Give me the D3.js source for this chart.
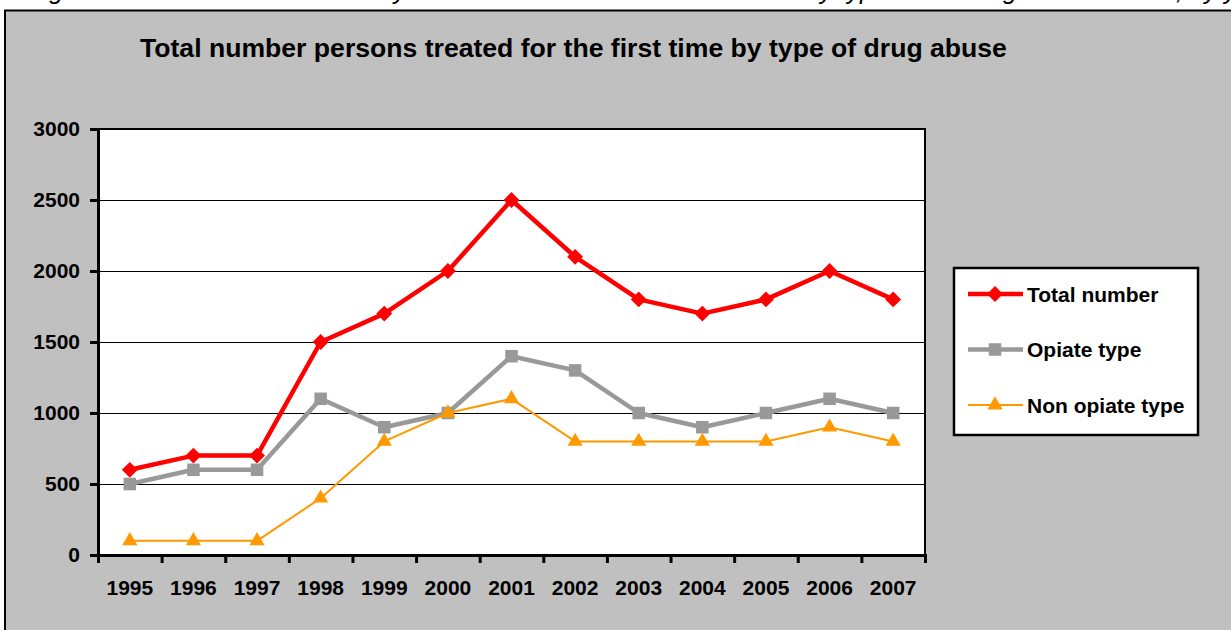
<!DOCTYPE html>
<meta charset="utf-8">
<style>
  body { margin: 0; background: #fff; overflow: hidden; }
  .axis text { font-family: Arial, "Liberation Sans", sans-serif; font-weight: bold; fill: #000; }
  .legend text { font-family: Arial, "Liberation Sans", sans-serif; font-weight: bold; font-size: 21px; }
  .grid { shape-rendering: crispEdges; }
</style>
<script src="https://d3js.org/d3.v7.min.js"></script>

<!-- Create a div where the graph will take place -->
<div id="my_dataviz"></div>

<script>

    // data
    var years = ["1995", "1996", "1997", "1998", "1999", "2000", "2001",
                 "2002", "2003", "2004", "2005", "2006", "2007"];
    var totalNumber   = [600, 700, 700, 1500, 1700, 2000, 2500, 2100, 1800, 1700, 1800, 2000, 1800];
    var opiateType    = [500, 600, 600, 1100, 900, 1000, 1400, 1300, 1000, 900, 1000, 1100, 1000];
    var nonOpiateType = [100, 100, 100, 400, 800, 1000, 1100, 800, 800, 800, 800, 900, 800];
    var yTicks = [0, 500, 1000, 1500, 2000, 2500, 3000];
    var seriesNames = ["Total number", "Opiate type", "Non opiate type"];

    var series = [
      {name: seriesNames[0], values: totalNumber,   color: "#ff0000", width: 4.5, symbol: d3.symbolDiamond2, size: 160},
      {name: seriesNames[1], values: opiateType,    color: "#999999", width: 4.5, symbol: d3.symbolSquare2,  size: 200},
      {name: seriesNames[2], values: nonOpiateType, color: "#ff9900", width: 2,   symbol: d3.symbolTriangle, size: 100}
    ];

    // set the dimensions and margins of the graph
    var margin = {top: 129, right: 306, bottom: 75, left: 98},
      width = 1231 - margin.left - margin.right,
      height = 630 - margin.top - margin.bottom;

    var root = d3.select("#my_dataviz")
      .append("svg")
        .attr("width", 1231)
        .attr("height", 630);

    // caption above the chart (cut off by the page edge)
    root.append("text")
        .attr("x", 28)
        .attr("y", -1)
        .style("font-family", "Arial, 'Liberation Sans', sans-serif")
        .style("font-style", "italic")
        .style("font-size", "25.5px")
        .text("Figure 4: Number of clients newly treated for the first time in their life by type of the drug abuse in total, by year");

    // grey chart area
    root.append("rect")
        .attr("x", 5)
        .attr("y", 10.5)
        .attr("width", 1240)
        .attr("height", 640)
        .style("fill", "#c0c0c0")
        .style("stroke", "#000")
        .style("stroke-width", 2);

    // chart title
    root.append("text")
        .attr("x", 140)
        .attr("y", 57)
        .style("font-family", "Arial, 'Liberation Sans', sans-serif")
        .style("font-weight", "bold")
        .style("font-size", "26.6px")
        .text("Total number persons treated for the first time by type of drug abuse");

    var svg = root.append("g")
        .attr("transform", "translate(" + margin.left + "," + margin.top + ")");

    // plot area
    svg.append("rect")
        .attr("width", width)
        .attr("height", height)
        .style("fill", "#fff")
        .style("stroke", "#000")
        .style("stroke-width", 2);

    // scales
    var x = d3.scaleBand()
      .domain(years)
      .range([0, width]);

    var xEdge = d3.scaleLinear()
      .domain([0, years.length])
      .range([0, width]);

    var y = d3.scaleLinear()
      .domain([0, 3000])
      .range([height, 0]);

    // gridlines
    svg.selectAll(".grid")
      .data(yTicks)
      .enter()
      .append("line")
        .attr("class", "grid")
        .attr("x1", 0)
        .attr("x2", width)
        .attr("y1", function(d) { return y(d) })
        .attr("y2", function(d) { return y(d) })
        .style("stroke", "#000")
        .style("stroke-width", 1);

    // Y axis
    var yAxis = svg.append("g")
      .attr("class", "axis")
      .style("font-size", "21px")
      .call(d3.axisLeft(y).tickValues(yTicks).tickFormat(d3.format("d")).tickSize(8).tickPadding(10));
    yAxis.selectAll("line, path").style("stroke", "#000").style("stroke-width", 3);

    // X axis: ticks between the years
    var xTickAxis = svg.append("g")
      .attr("class", "axis")
      .attr("transform", "translate(0," + height + ")")
      .call(d3.axisBottom(xEdge).tickValues(d3.range(0, years.length + 1)).tickFormat("").tickSize(8).tickSizeOuter(8));
    xTickAxis.selectAll("line, path").style("stroke", "#000").style("stroke-width", 3);

    // X axis labels
    var xLabels = svg.append("g")
      .attr("class", "axis")
      .style("font-size", "21px")
      .attr("transform", "translate(0," + height + ")")
      .call(d3.axisBottom(x).tickSize(0).tickPadding(25));
    xLabels.select(".domain").remove();

    // lines
    var line = d3.line()
      .x(function(d, i) { return x(years[i]) + x.bandwidth() / 2 })
      .y(function(d) { return y(d) });

    series.forEach(function(s) {
      svg.append("path")
        .datum(s.values)
        .attr("d", line)
        .style("fill", "none")
        .style("stroke", s.color)
        .style("stroke-width", s.width)
        .style("stroke-linejoin", "round");

      svg.selectAll(null)
        .data(s.values)
        .enter()
        .append("path")
          .attr("transform", function(d, i) { return "translate(" + (x(years[i]) + x.bandwidth() / 2) + "," + y(d) + ")" })
          .attr("d", d3.symbol().type(s.symbol).size(s.size))
          .style("fill", s.color);
    });

    // legend
    var legend = root.append("g")
      .attr("class", "legend")
      .attr("transform", "translate(954,268)");

    legend.append("rect")
      .attr("width", 244)
      .attr("height", 167)
      .style("fill", "#fff")
      .style("stroke", "#000")
      .style("stroke-width", 2.5);

    var item = legend.selectAll(".item")
      .data(series)
      .enter()
      .append("g")
        .attr("class", "item")
        .attr("transform", function(d, i) { return "translate(0," + (26 + i * 55.5) + ")" });

    item.append("line")
      .attr("x1", 14)
      .attr("x2", 69)
      .style("stroke", function(d) { return d.color })
      .style("stroke-width", function(d) { return d.width });

    item.append("path")
      .attr("transform", "translate(41,0)")
      .attr("d", function(d) { return d3.symbol().type(d.symbol).size(d.size)() })
      .style("fill", function(d) { return d.color });

    item.append("text")
      .attr("x", 73)
      .attr("dy", "0.36em")
      .text(function(d) { return d.name });

</script>
